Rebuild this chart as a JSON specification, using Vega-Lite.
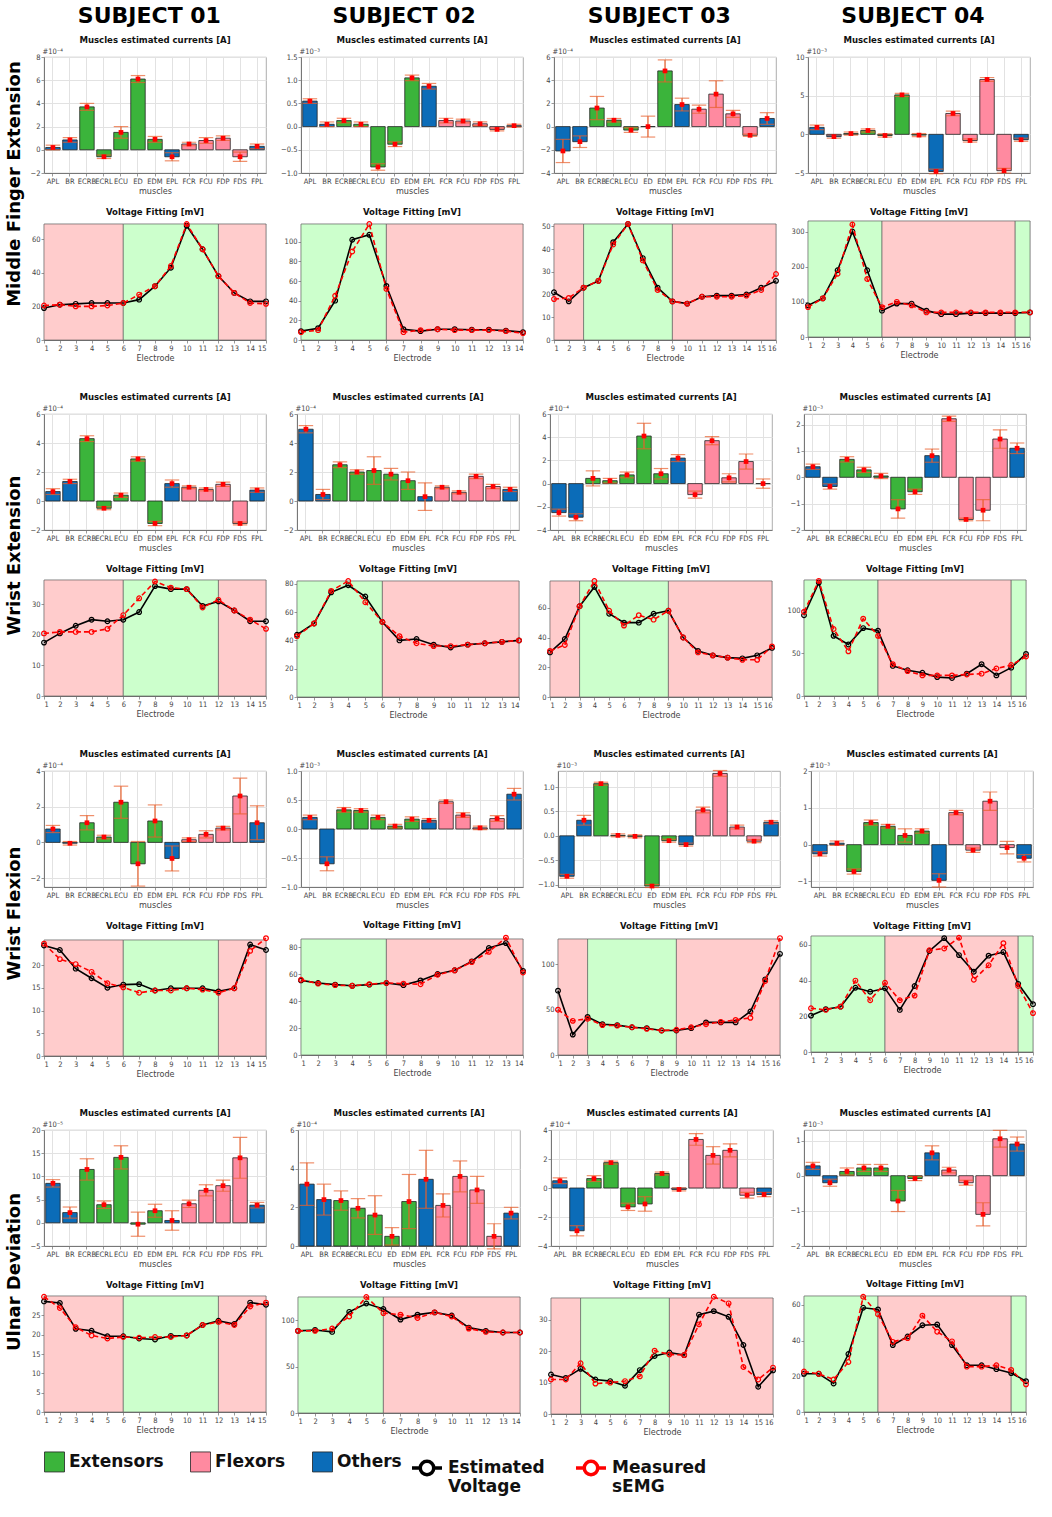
{
"$schema":"https://vega.github.io/schema/vega-lite/v6.json",
"background":"white",
"padding":5,
"datasets":{
"muscles":[{"k":"APL","g":"Others"},{"k":"BR","g":"Others"},{"k":"ECRB","g":"Extensors"},{"k":"ECRL","g":"Extensors"},{"k":"ECU","g":"Extensors"},{"k":"ED","g":"Extensors"},{"k":"EDM","g":"Extensors"},{"k":"EPL","g":"Others"},{"k":"FCR","g":"Flexors"},{"k":"FCU","g":"Flexors"},{"k":"FDP","g":"Flexors"},{"k":"FDS","g":"Flexors"},{"k":"FPL","g":"Others"}],
"zones":[{"s":1,"a":1,"b":6,"z":"F"},{"s":1,"a":6,"b":12,"z":"E"},{"s":1,"a":12,"b":15,"z":"F"},{"s":2,"a":1,"b":6,"z":"E"},{"s":2,"a":6,"b":14,"z":"F"},{"s":3,"a":1,"b":3,"z":"F"},{"s":3,"a":3,"b":9,"z":"E"},{"s":3,"a":9,"b":16,"z":"F"},{"s":4,"a":1,"b":6,"z":"E"},{"s":4,"a":6,"b":15,"z":"F"},{"s":4,"a":15,"b":16,"z":"E"}],
"bars":[
{"m":1,"s":1,"k":"APL","v":0.2,"e":0.2},{"m":1,"s":1,"k":"BR","v":0.85,"e":0.2},{"m":1,"s":1,"k":"ECRB","v":3.7,"e":0.3},{"m":1,"s":1,"k":"ECRL","v":-0.6,"e":0.15},{"m":1,"s":1,"k":"ECU","v":1.5,"e":0.5},{"m":1,"s":1,"k":"ED","v":6.1,"e":0.3},{"m":1,"s":1,"k":"EDM","v":0.9,"e":0.25},{"m":1,"s":1,"k":"EPL","v":-0.6,"e":0.35},{"m":1,"s":1,"k":"FCR","v":0.5,"e":0.15},{"m":1,"s":1,"k":"FCU","v":0.8,"e":0.25},{"m":1,"s":1,"k":"FDP","v":1.0,"e":0.2},{"m":1,"s":1,"k":"FDS","v":-0.6,"e":0.4},{"m":1,"s":1,"k":"FPL","v":0.3,"e":0.2},
{"m":1,"s":2,"k":"APL","v":0.55,"e":0.05},{"m":1,"s":2,"k":"BR","v":0.05,"e":0.05},{"m":1,"s":2,"k":"ECRB","v":0.13,"e":0.05},{"m":1,"s":2,"k":"ECRL","v":0.05,"e":0.05},{"m":1,"s":2,"k":"ECU","v":-0.87,"e":0.07},{"m":1,"s":2,"k":"ED","v":-0.38,"e":0.05},{"m":1,"s":2,"k":"EDM","v":1.05,"e":0.06},{"m":1,"s":2,"k":"EPL","v":0.87,"e":0.06},{"m":1,"s":2,"k":"FCR","v":0.13,"e":0.05},{"m":1,"s":2,"k":"FCU","v":0.12,"e":0.04},{"m":1,"s":2,"k":"FDP","v":0.06,"e":0.04},{"m":1,"s":2,"k":"FDS","v":-0.06,"e":0.03},{"m":1,"s":2,"k":"FPL","v":0.02,"e":0.03},
{"m":1,"s":3,"k":"APL","v":-2.1,"e":1.0},{"m":1,"s":3,"k":"BR","v":-1.3,"e":0.5},{"m":1,"s":3,"k":"ECRB","v":1.6,"e":1.0},{"m":1,"s":3,"k":"ECRL","v":0.55,"e":0.15},{"m":1,"s":3,"k":"ECU","v":-0.3,"e":0.2},{"m":1,"s":3,"k":"ED","v":0.0,"e":0.9},{"m":1,"s":3,"k":"EDM","v":4.8,"e":0.95},{"m":1,"s":3,"k":"EPL","v":1.9,"e":0.55},{"m":1,"s":3,"k":"FCR","v":1.5,"e":0.35},{"m":1,"s":3,"k":"FCU","v":2.8,"e":1.15},{"m":1,"s":3,"k":"FDP","v":1.1,"e":0.3},{"m":1,"s":3,"k":"FDS","v":-0.75,"e":0.1},{"m":1,"s":3,"k":"FPL","v":0.7,"e":0.5},
{"m":1,"s":4,"k":"APL","v":0.9,"e":0.3},{"m":1,"s":4,"k":"BR","v":-0.3,"e":0.2},{"m":1,"s":4,"k":"ECRB","v":0.1,"e":0.2},{"m":1,"s":4,"k":"ECRL","v":0.5,"e":0.2},{"m":1,"s":4,"k":"ECU","v":-0.15,"e":0.2},{"m":1,"s":4,"k":"ED","v":5.1,"e":0.2},{"m":1,"s":4,"k":"EDM","v":-0.1,"e":0.2},{"m":1,"s":4,"k":"EPL","v":-4.8,"e":0.3},{"m":1,"s":4,"k":"FCR","v":2.7,"e":0.3},{"m":1,"s":4,"k":"FCU","v":-0.8,"e":0.2},{"m":1,"s":4,"k":"FDP","v":7.1,"e":0.25},{"m":1,"s":4,"k":"FDS","v":-4.7,"e":0.3},{"m":1,"s":4,"k":"FPL","v":-0.7,"e":0.2},
{"m":2,"s":1,"k":"APL","v":0.65,"e":0.2},{"m":2,"s":1,"k":"BR","v":1.35,"e":0.15},{"m":2,"s":1,"k":"ECRB","v":4.3,"e":0.2},{"m":2,"s":1,"k":"ECRL","v":-0.5,"e":0.1},{"m":2,"s":1,"k":"ECU","v":0.4,"e":0.15},{"m":2,"s":1,"k":"ED","v":2.9,"e":0.15},{"m":2,"s":1,"k":"EDM","v":-1.55,"e":0.15},{"m":2,"s":1,"k":"EPL","v":1.2,"e":0.25},{"m":2,"s":1,"k":"FCR","v":0.95,"e":0.1},{"m":2,"s":1,"k":"FCU","v":0.8,"e":0.1},{"m":2,"s":1,"k":"FDP","v":1.15,"e":0.15},{"m":2,"s":1,"k":"FDS","v":-1.55,"e":0.1},{"m":2,"s":1,"k":"FPL","v":0.75,"e":0.15},
{"m":2,"s":2,"k":"APL","v":4.95,"e":0.25},{"m":2,"s":2,"k":"BR","v":0.45,"e":0.35},{"m":2,"s":2,"k":"ECRB","v":2.5,"e":0.2},{"m":2,"s":2,"k":"ECRL","v":2.0,"e":0.15},{"m":2,"s":2,"k":"ECU","v":2.1,"e":0.95},{"m":2,"s":2,"k":"ED","v":1.85,"e":0.4},{"m":2,"s":2,"k":"EDM","v":1.4,"e":0.6},{"m":2,"s":2,"k":"EPL","v":0.3,"e":0.95},{"m":2,"s":2,"k":"FCR","v":0.95,"e":0.1},{"m":2,"s":2,"k":"FCU","v":0.6,"e":0.1},{"m":2,"s":2,"k":"FDP","v":1.7,"e":0.15},{"m":2,"s":2,"k":"FDS","v":1.0,"e":0.15},{"m":2,"s":2,"k":"FPL","v":0.8,"e":0.15},
{"m":2,"s":3,"k":"APL","v":-2.5,"e":0.3},{"m":2,"s":3,"k":"BR","v":-2.9,"e":0.3},{"m":2,"s":3,"k":"ECRB","v":0.45,"e":0.65},{"m":2,"s":3,"k":"ECRL","v":0.25,"e":0.2},{"m":2,"s":3,"k":"ECU","v":0.75,"e":0.25},{"m":2,"s":3,"k":"ED","v":4.1,"e":1.1},{"m":2,"s":3,"k":"EDM","v":0.85,"e":0.45},{"m":2,"s":3,"k":"EPL","v":2.2,"e":0.3},{"m":2,"s":3,"k":"FCR","v":-0.95,"e":0.3},{"m":2,"s":3,"k":"FCU","v":3.7,"e":0.35},{"m":2,"s":3,"k":"FDP","v":0.5,"e":0.35},{"m":2,"s":3,"k":"FDS","v":1.9,"e":0.65},{"m":2,"s":3,"k":"FPL","v":0.0,"e":0.4},
{"m":2,"s":4,"k":"APL","v":0.4,"e":0.1},{"m":2,"s":4,"k":"BR","v":-0.35,"e":0.1},{"m":2,"s":4,"k":"ECRB","v":0.68,"e":0.1},{"m":2,"s":4,"k":"ECRL","v":0.28,"e":0.1},{"m":2,"s":4,"k":"ECU","v":0.05,"e":0.1},{"m":2,"s":4,"k":"ED","v":-1.2,"e":0.35},{"m":2,"s":4,"k":"EDM","v":-0.55,"e":0.1},{"m":2,"s":4,"k":"EPL","v":0.82,"e":0.25},{"m":2,"s":4,"k":"FCR","v":2.22,"e":0.1},{"m":2,"s":4,"k":"FCU","v":-1.6,"e":0.05},{"m":2,"s":4,"k":"FDP","v":-1.25,"e":0.4},{"m":2,"s":4,"k":"FDS","v":1.45,"e":0.35},{"m":2,"s":4,"k":"FPL","v":1.1,"e":0.2},
{"m":3,"s":1,"k":"APL","v":0.75,"e":0.2},{"m":3,"s":1,"k":"BR","v":-0.05,"e":0.1},{"m":3,"s":1,"k":"ECRB","v":1.1,"e":0.4},{"m":3,"s":1,"k":"ECRL","v":0.3,"e":0.1},{"m":3,"s":1,"k":"ECU","v":2.25,"e":0.9},{"m":3,"s":1,"k":"ED","v":-1.2,"e":1.25},{"m":3,"s":1,"k":"EDM","v":1.2,"e":0.9},{"m":3,"s":1,"k":"EPL","v":-0.9,"e":0.7},{"m":3,"s":1,"k":"FCR","v":0.15,"e":0.1},{"m":3,"s":1,"k":"FCU","v":0.45,"e":0.2},{"m":3,"s":1,"k":"FDP","v":0.8,"e":0.1},{"m":3,"s":1,"k":"FDS","v":2.6,"e":1.0},{"m":3,"s":1,"k":"FPL","v":1.1,"e":0.95},
{"m":3,"s":2,"k":"APL","v":0.2,"e":0.04},{"m":3,"s":2,"k":"BR","v":-0.6,"e":0.12},{"m":3,"s":2,"k":"ECRB","v":0.33,"e":0.04},{"m":3,"s":2,"k":"ECRL","v":0.32,"e":0.03},{"m":3,"s":2,"k":"ECU","v":0.2,"e":0.04},{"m":3,"s":2,"k":"ED","v":0.05,"e":0.03},{"m":3,"s":2,"k":"EDM","v":0.17,"e":0.04},{"m":3,"s":2,"k":"EPL","v":0.15,"e":0.03},{"m":3,"s":2,"k":"FCR","v":0.47,"e":0.03},{"m":3,"s":2,"k":"FCU","v":0.24,"e":0.04},{"m":3,"s":2,"k":"FDP","v":0.02,"e":0.03},{"m":3,"s":2,"k":"FDS","v":0.18,"e":0.05},{"m":3,"s":2,"k":"FPL","v":0.6,"e":0.1},
{"m":3,"s":3,"k":"APL","v":-0.83,"e":0.04},{"m":3,"s":3,"k":"BR","v":0.32,"e":0.1},{"m":3,"s":3,"k":"ECRB","v":1.07,"e":0.03},{"m":3,"s":3,"k":"ECRL","v":0.01,"e":0.03},{"m":3,"s":3,"k":"ECU","v":-0.01,"e":0.03},{"m":3,"s":3,"k":"ED","v":-1.03,"e":0.03},{"m":3,"s":3,"k":"EDM","v":-0.1,"e":0.03},{"m":3,"s":3,"k":"EPL","v":-0.18,"e":0.03},{"m":3,"s":3,"k":"FCR","v":0.53,"e":0.06},{"m":3,"s":3,"k":"FCU","v":1.28,"e":0.06},{"m":3,"s":3,"k":"FDP","v":0.18,"e":0.04},{"m":3,"s":3,"k":"FDS","v":-0.11,"e":0.03},{"m":3,"s":3,"k":"FPL","v":0.28,"e":0.03},
{"m":3,"s":4,"k":"APL","v":-0.25,"e":0.06},{"m":3,"s":4,"k":"BR","v":0.04,"e":0.06},{"m":3,"s":4,"k":"ECRB","v":-0.73,"e":0.07},{"m":3,"s":4,"k":"ECRL","v":0.6,"e":0.07},{"m":3,"s":4,"k":"ECU","v":0.5,"e":0.05},{"m":3,"s":4,"k":"ED","v":0.25,"e":0.18},{"m":3,"s":4,"k":"EDM","v":0.37,"e":0.06},{"m":3,"s":4,"k":"EPL","v":-0.97,"e":0.18},{"m":3,"s":4,"k":"FCR","v":0.87,"e":0.06},{"m":3,"s":4,"k":"FCU","v":-0.15,"e":0.06},{"m":3,"s":4,"k":"FDP","v":1.18,"e":0.25},{"m":3,"s":4,"k":"FDS","v":-0.08,"e":0.17},{"m":3,"s":4,"k":"FPL","v":-0.37,"e":0.1},
{"m":4,"s":1,"k":"APL","v":8.5,"e":0.8},{"m":4,"s":1,"k":"BR","v":2.2,"e":1.2},{"m":4,"s":1,"k":"ECRB","v":11.5,"e":2.3},{"m":4,"s":1,"k":"ECRL","v":3.9,"e":0.8},{"m":4,"s":1,"k":"ECU","v":14.1,"e":2.5},{"m":4,"s":1,"k":"ED","v":-0.3,"e":2.6},{"m":4,"s":1,"k":"EDM","v":2.6,"e":1.4},{"m":4,"s":1,"k":"EPL","v":0.5,"e":2.1},{"m":4,"s":1,"k":"FCR","v":4.1,"e":0.8},{"m":4,"s":1,"k":"FCU","v":7.0,"e":1.2},{"m":4,"s":1,"k":"FDP","v":8.0,"e":1.2},{"m":4,"s":1,"k":"FDS","v":14.0,"e":4.4},{"m":4,"s":1,"k":"FPL","v":3.8,"e":0.6},
{"m":4,"s":2,"k":"APL","v":3.2,"e":1.1},{"m":4,"s":2,"k":"BR","v":2.4,"e":0.8},{"m":4,"s":2,"k":"ECRB","v":2.35,"e":0.5},{"m":4,"s":2,"k":"ECRL","v":1.95,"e":0.5},{"m":4,"s":2,"k":"ECU","v":1.6,"e":1.0},{"m":4,"s":2,"k":"ED","v":0.5,"e":0.45},{"m":4,"s":2,"k":"EDM","v":2.3,"e":1.4},{"m":4,"s":2,"k":"EPL","v":3.45,"e":1.5},{"m":4,"s":2,"k":"FCR","v":2.1,"e":0.6},{"m":4,"s":2,"k":"FCU","v":3.6,"e":0.8},{"m":4,"s":2,"k":"FDP","v":2.9,"e":0.7},{"m":4,"s":2,"k":"FDS","v":0.5,"e":0.65},{"m":4,"s":2,"k":"FPL","v":1.7,"e":0.3},
{"m":4,"s":3,"k":"APL","v":0.5,"e":0.2},{"m":4,"s":3,"k":"BR","v":-2.95,"e":0.35},{"m":4,"s":3,"k":"ECRB","v":0.65,"e":0.2},{"m":4,"s":3,"k":"ECRL","v":1.75,"e":0.1},{"m":4,"s":3,"k":"ECU","v":-1.3,"e":0.25},{"m":4,"s":3,"k":"ED","v":-1.1,"e":0.5},{"m":4,"s":3,"k":"EDM","v":1.0,"e":0.1},{"m":4,"s":3,"k":"EPL","v":-0.1,"e":0.1},{"m":4,"s":3,"k":"FCR","v":3.35,"e":0.4},{"m":4,"s":3,"k":"FCU","v":2.25,"e":0.6},{"m":4,"s":3,"k":"FDP","v":2.6,"e":0.45},{"m":4,"s":3,"k":"FDS","v":-0.5,"e":0.2},{"m":4,"s":3,"k":"FPL","v":-0.45,"e":0.15},
{"m":4,"s":4,"k":"APL","v":0.28,"e":0.1},{"m":4,"s":4,"k":"BR","v":-0.2,"e":0.1},{"m":4,"s":4,"k":"ECRB","v":0.12,"e":0.1},{"m":4,"s":4,"k":"ECRL","v":0.22,"e":0.1},{"m":4,"s":4,"k":"ECU","v":0.22,"e":0.1},{"m":4,"s":4,"k":"ED","v":-0.72,"e":0.3},{"m":4,"s":4,"k":"EDM","v":-0.08,"e":0.06},{"m":4,"s":4,"k":"EPL","v":0.65,"e":0.2},{"m":4,"s":4,"k":"FCR","v":0.16,"e":0.08},{"m":4,"s":4,"k":"FCU","v":-0.2,"e":0.07},{"m":4,"s":4,"k":"FDP","v":-1.1,"e":0.33},{"m":4,"s":4,"k":"FDS","v":1.05,"e":0.24},{"m":4,"s":4,"k":"FPL","v":0.9,"e":0.2}
],
"volt":[
{"m":1,"s":1,"el":1,"est":19,"meas":20.5},{"m":1,"s":1,"el":2,"est":21,"meas":21},{"m":1,"s":1,"el":3,"est":21.5,"meas":20},{"m":1,"s":1,"el":4,"est":22,"meas":20},{"m":1,"s":1,"el":5,"est":22,"meas":20.5},{"m":1,"s":1,"el":6,"est":22,"meas":22},{"m":1,"s":1,"el":7,"est":24,"meas":27},{"m":1,"s":1,"el":8,"est":32,"meas":32},{"m":1,"s":1,"el":9,"est":43,"meas":44},{"m":1,"s":1,"el":10,"est":68,"meas":69},{"m":1,"s":1,"el":11,"est":54,"meas":54},{"m":1,"s":1,"el":12,"est":38,"meas":38},{"m":1,"s":1,"el":13,"est":28,"meas":28},{"m":1,"s":1,"el":14,"est":23,"meas":22},{"m":1,"s":1,"el":15,"est":23,"meas":21.5},
{"m":1,"s":2,"el":1,"est":9,"meas":8},{"m":1,"s":2,"el":2,"est":12,"meas":10},{"m":1,"s":2,"el":3,"est":40,"meas":45},{"m":1,"s":2,"el":4,"est":102,"meas":90},{"m":1,"s":2,"el":5,"est":107,"meas":118},{"m":1,"s":2,"el":6,"est":55,"meas":52},{"m":1,"s":2,"el":7,"est":11,"meas":8},{"m":1,"s":2,"el":8,"est":9,"meas":10},{"m":1,"s":2,"el":9,"est":11,"meas":11},{"m":1,"s":2,"el":10,"est":11,"meas":10},{"m":1,"s":2,"el":11,"est":10.5,"meas":10},{"m":1,"s":2,"el":12,"est":10.5,"meas":10},{"m":1,"s":2,"el":13,"est":9.5,"meas":9},{"m":1,"s":2,"el":14,"est":8,"meas":7},
{"m":1,"s":3,"el":1,"est":21,"meas":18},{"m":1,"s":3,"el":2,"est":17,"meas":18.5},{"m":1,"s":3,"el":3,"est":23,"meas":23},{"m":1,"s":3,"el":4,"est":26,"meas":26},{"m":1,"s":3,"el":5,"est":43,"meas":42},{"m":1,"s":3,"el":6,"est":51,"meas":51},{"m":1,"s":3,"el":7,"est":36,"meas":35},{"m":1,"s":3,"el":8,"est":23,"meas":22},{"m":1,"s":3,"el":9,"est":17,"meas":17},{"m":1,"s":3,"el":10,"est":16,"meas":16},{"m":1,"s":3,"el":11,"est":19,"meas":19},{"m":1,"s":3,"el":12,"est":19.5,"meas":19},{"m":1,"s":3,"el":13,"est":19.5,"meas":19},{"m":1,"s":3,"el":14,"est":20,"meas":19.5},{"m":1,"s":3,"el":15,"est":23,"meas":22},{"m":1,"s":3,"el":16,"est":26,"meas":29},
{"m":1,"s":4,"el":1,"est":90,"meas":85},{"m":1,"s":4,"el":2,"est":110,"meas":110},{"m":1,"s":4,"el":3,"est":190,"meas":180},{"m":1,"s":4,"el":4,"est":300,"meas":320},{"m":1,"s":4,"el":5,"est":190,"meas":165},{"m":1,"s":4,"el":6,"est":75,"meas":85},{"m":1,"s":4,"el":7,"est":95,"meas":100},{"m":1,"s":4,"el":8,"est":95,"meas":90},{"m":1,"s":4,"el":9,"est":75,"meas":70},{"m":1,"s":4,"el":10,"est":65,"meas":70},{"m":1,"s":4,"el":11,"est":65,"meas":70},{"m":1,"s":4,"el":12,"est":68,"meas":70},{"m":1,"s":4,"el":13,"est":68,"meas":70},{"m":1,"s":4,"el":14,"est":68,"meas":70},{"m":1,"s":4,"el":15,"est":68,"meas":70},{"m":1,"s":4,"el":16,"est":70,"meas":70},
{"m":2,"s":1,"el":1,"est":17.5,"meas":20.5},{"m":2,"s":1,"el":2,"est":20.5,"meas":21},{"m":2,"s":1,"el":3,"est":23,"meas":21},{"m":2,"s":1,"el":4,"est":25,"meas":21},{"m":2,"s":1,"el":5,"est":24.5,"meas":22},{"m":2,"s":1,"el":6,"est":25,"meas":26.5},{"m":2,"s":1,"el":7,"est":27.5,"meas":32},{"m":2,"s":1,"el":8,"est":36,"meas":37.5},{"m":2,"s":1,"el":9,"est":35,"meas":35.5},{"m":2,"s":1,"el":10,"est":35,"meas":35},{"m":2,"s":1,"el":11,"est":29.5,"meas":29},{"m":2,"s":1,"el":12,"est":31,"meas":31.5},{"m":2,"s":1,"el":13,"est":28,"meas":28},{"m":2,"s":1,"el":14,"est":24.5,"meas":25},{"m":2,"s":1,"el":15,"est":24.5,"meas":22},
{"m":2,"s":2,"el":1,"est":44,"meas":43},{"m":2,"s":2,"el":2,"est":52,"meas":52},{"m":2,"s":2,"el":3,"est":74,"meas":75},{"m":2,"s":2,"el":4,"est":79,"meas":82},{"m":2,"s":2,"el":5,"est":71,"meas":67},{"m":2,"s":2,"el":6,"est":53,"meas":53},{"m":2,"s":2,"el":7,"est":40,"meas":43},{"m":2,"s":2,"el":8,"est":41,"meas":38},{"m":2,"s":2,"el":9,"est":37,"meas":36},{"m":2,"s":2,"el":10,"est":35,"meas":36},{"m":2,"s":2,"el":11,"est":37,"meas":37},{"m":2,"s":2,"el":12,"est":38,"meas":38},{"m":2,"s":2,"el":13,"est":39,"meas":39},{"m":2,"s":2,"el":14,"est":40,"meas":40},
{"m":2,"s":3,"el":1,"est":30,"meas":31},{"m":2,"s":3,"el":2,"est":39,"meas":35},{"m":2,"s":3,"el":3,"est":61,"meas":61},{"m":2,"s":3,"el":4,"est":74,"meas":78},{"m":2,"s":3,"el":5,"est":56,"meas":58},{"m":2,"s":3,"el":6,"est":50,"meas":48},{"m":2,"s":3,"el":7,"est":50,"meas":55},{"m":2,"s":3,"el":8,"est":56,"meas":52},{"m":2,"s":3,"el":9,"est":58,"meas":58},{"m":2,"s":3,"el":10,"est":40,"meas":40},{"m":2,"s":3,"el":11,"est":31,"meas":30},{"m":2,"s":3,"el":12,"est":28,"meas":28},{"m":2,"s":3,"el":13,"est":26.5,"meas":26.5},{"m":2,"s":3,"el":14,"est":26,"meas":25},{"m":2,"s":3,"el":15,"est":28,"meas":25},{"m":2,"s":3,"el":16,"est":33,"meas":34},
{"m":2,"s":4,"el":1,"est":94,"meas":98},{"m":2,"s":4,"el":2,"est":132,"meas":134},{"m":2,"s":4,"el":3,"est":70,"meas":78},{"m":2,"s":4,"el":4,"est":60,"meas":52},{"m":2,"s":4,"el":5,"est":79,"meas":90},{"m":2,"s":4,"el":6,"est":76,"meas":70},{"m":2,"s":4,"el":7,"est":35,"meas":37},{"m":2,"s":4,"el":8,"est":30,"meas":29},{"m":2,"s":4,"el":9,"est":27,"meas":24},{"m":2,"s":4,"el":10,"est":22,"meas":24},{"m":2,"s":4,"el":11,"est":21,"meas":24},{"m":2,"s":4,"el":12,"est":26,"meas":25},{"m":2,"s":4,"el":13,"est":37,"meas":26},{"m":2,"s":4,"el":14,"est":24,"meas":32},{"m":2,"s":4,"el":15,"est":33,"meas":36},{"m":2,"s":4,"el":16,"est":49,"meas":46},
{"m":3,"s":1,"el":1,"est":24.3,"meas":24.7},{"m":3,"s":1,"el":2,"est":23.3,"meas":21.3},{"m":3,"s":1,"el":3,"est":19.2,"meas":20.2},{"m":3,"s":1,"el":4,"est":17.1,"meas":18.5},{"m":3,"s":1,"el":5,"est":15,"meas":16},{"m":3,"s":1,"el":6,"est":15.7,"meas":15.1},{"m":3,"s":1,"el":7,"est":15.8,"meas":13.9},{"m":3,"s":1,"el":8,"est":14.4,"meas":14.4},{"m":3,"s":1,"el":9,"est":14.9,"meas":14.4},{"m":3,"s":1,"el":10,"est":14.9,"meas":14.9},{"m":3,"s":1,"el":11,"est":14.9,"meas":14.6},{"m":3,"s":1,"el":12,"est":14.2,"meas":13.9},{"m":3,"s":1,"el":13,"est":14.9,"meas":14.9},{"m":3,"s":1,"el":14,"est":24.5,"meas":23.1},{"m":3,"s":1,"el":15,"est":23.3,"meas":25.9},
{"m":3,"s":2,"el":1,"est":55.3,"meas":55.8},{"m":3,"s":2,"el":2,"est":53.4,"meas":52.9},{"m":3,"s":2,"el":3,"est":52.2,"meas":51.8},{"m":3,"s":2,"el":4,"est":51.3,"meas":51.3},{"m":3,"s":2,"el":5,"est":52.2,"meas":52.5},{"m":3,"s":2,"el":6,"est":53.4,"meas":53.4},{"m":3,"s":2,"el":7,"est":51.8,"meas":52.9},{"m":3,"s":2,"el":8,"est":55.3,"meas":52.5},{"m":3,"s":2,"el":9,"est":60,"meas":59.5},{"m":3,"s":2,"el":10,"est":62.8,"meas":62.8},{"m":3,"s":2,"el":11,"est":69.4,"meas":68.9},{"m":3,"s":2,"el":12,"est":79.3,"meas":76.5},{"m":3,"s":2,"el":13,"est":83,"meas":87},{"m":3,"s":2,"el":14,"est":62.4,"meas":61.2},
{"m":3,"s":3,"el":1,"est":71,"meas":50},{"m":3,"s":3,"el":2,"est":22.5,"meas":37.7},{"m":3,"s":3,"el":3,"est":42,"meas":40},{"m":3,"s":3,"el":4,"est":34,"meas":33},{"m":3,"s":3,"el":5,"est":33,"meas":32.4},{"m":3,"s":3,"el":6,"est":30.6,"meas":30.6},{"m":3,"s":3,"el":7,"est":29.6,"meas":28.9},{"m":3,"s":3,"el":8,"est":27,"meas":27},{"m":3,"s":3,"el":9,"est":27,"meas":27.8},{"m":3,"s":3,"el":10,"est":29.6,"meas":30.6},{"m":3,"s":3,"el":11,"est":36,"meas":34},{"m":3,"s":3,"el":12,"est":36,"meas":36.6},{"m":3,"s":3,"el":13,"est":36,"meas":38.7},{"m":3,"s":3,"el":14,"est":48,"meas":41},{"m":3,"s":3,"el":15,"est":83.5,"meas":81.7},{"m":3,"s":3,"el":16,"est":111.6,"meas":129},
{"m":3,"s":4,"el":1,"est":20.4,"meas":24.5},{"m":3,"s":4,"el":2,"est":24,"meas":23.6},{"m":3,"s":4,"el":3,"est":25.4,"meas":25.4},{"m":3,"s":4,"el":4,"est":36,"meas":40},{"m":3,"s":4,"el":5,"est":33.8,"meas":29},{"m":3,"s":4,"el":6,"est":35.7,"meas":38.8},{"m":3,"s":4,"el":7,"est":23.6,"meas":29},{"m":3,"s":4,"el":8,"est":37,"meas":31.6},{"m":3,"s":4,"el":9,"est":56.6,"meas":57},{"m":3,"s":4,"el":10,"est":63.8,"meas":58},{"m":3,"s":4,"el":11,"est":54.3,"meas":64},{"m":3,"s":4,"el":12,"est":45,"meas":40.5},{"m":3,"s":4,"el":13,"est":54,"meas":48.6},{"m":3,"s":4,"el":14,"est":56,"meas":61},{"m":3,"s":4,"el":15,"est":38.2,"meas":37},{"m":3,"s":4,"el":16,"est":26.8,"meas":21.8},
{"m":4,"s":1,"el":1,"est":28.6,"meas":29.8},{"m":4,"s":1,"el":2,"est":28.2,"meas":26.9},{"m":4,"s":1,"el":3,"est":21.5,"meas":21.9},{"m":4,"s":1,"el":4,"est":21,"meas":19.8},{"m":4,"s":1,"el":5,"est":19.6,"meas":19},{"m":4,"s":1,"el":6,"est":19.6,"meas":19.4},{"m":4,"s":1,"el":7,"est":19,"meas":19.2},{"m":4,"s":1,"el":8,"est":18.75,"meas":19.4},{"m":4,"s":1,"el":9,"est":19.7,"meas":19.4},{"m":4,"s":1,"el":10,"est":19.8,"meas":19.8},{"m":4,"s":1,"el":11,"est":22.5,"meas":22.5},{"m":4,"s":1,"el":12,"est":23.6,"meas":23.3},{"m":4,"s":1,"el":13,"est":22.75,"meas":22.5},{"m":4,"s":1,"el":14,"est":28.3,"meas":27.3},{"m":4,"s":1,"el":15,"est":27.75,"meas":28.3},
{"m":4,"s":2,"el":1,"est":88.5,"meas":88.5},{"m":4,"s":2,"el":2,"est":89.5,"meas":88.5},{"m":4,"s":2,"el":3,"est":87.4,"meas":91},{"m":4,"s":2,"el":4,"est":109,"meas":104},{"m":4,"s":2,"el":5,"est":118,"meas":125},{"m":4,"s":2,"el":6,"est":112,"meas":107.7},{"m":4,"s":2,"el":7,"est":100.7,"meas":106},{"m":4,"s":2,"el":8,"est":106,"meas":102.4},{"m":4,"s":2,"el":9,"est":108.4,"meas":108.4},{"m":4,"s":2,"el":10,"est":105,"meas":104},{"m":4,"s":2,"el":11,"est":92,"meas":91},{"m":4,"s":2,"el":12,"est":88.5,"meas":87.4},{"m":4,"s":2,"el":13,"est":86.7,"meas":86.7},{"m":4,"s":2,"el":14,"est":86.7,"meas":86.7},
{"m":4,"s":3,"el":1,"est":12.6,"meas":11},{"m":4,"s":3,"el":2,"est":11.5,"meas":11},{"m":4,"s":3,"el":3,"est":14.4,"meas":16.2},{"m":4,"s":3,"el":4,"est":11,"meas":9.7},{"m":4,"s":3,"el":5,"est":10.5,"meas":10},{"m":4,"s":3,"el":6,"est":9,"meas":10.5},{"m":4,"s":3,"el":7,"est":14,"meas":12},{"m":4,"s":3,"el":8,"est":18.5,"meas":20.2},{"m":4,"s":3,"el":9,"est":19.6,"meas":19},{"m":4,"s":3,"el":10,"est":18.8,"meas":18.8},{"m":4,"s":3,"el":11,"est":31.7,"meas":28.6},{"m":4,"s":3,"el":12,"est":32.8,"meas":37.4},{"m":4,"s":3,"el":13,"est":31,"meas":35.3},{"m":4,"s":3,"el":14,"est":22,"meas":15},{"m":4,"s":3,"el":15,"est":8.7,"meas":11},{"m":4,"s":3,"el":16,"est":13.9,"meas":14.8},
{"m":4,"s":4,"el":1,"est":21.4,"meas":22.7},{"m":4,"s":4,"el":2,"est":21.4,"meas":21.4},{"m":4,"s":4,"el":3,"est":16,"meas":18.2},{"m":4,"s":4,"el":4,"est":32.5,"meas":28},{"m":4,"s":4,"el":5,"est":58.4,"meas":64.6},{"m":4,"s":4,"el":6,"est":57.5,"meas":54.8},{"m":4,"s":4,"el":7,"est":37.5,"meas":39.3},{"m":4,"s":4,"el":8,"est":42.3,"meas":41.4},{"m":4,"s":4,"el":9,"est":48.6,"meas":54},{"m":4,"s":4,"el":10,"est":49,"meas":45},{"m":4,"s":4,"el":11,"est":37.5,"meas":39.6},{"m":4,"s":4,"el":12,"est":26.2,"meas":25.4},{"m":4,"s":4,"el":13,"est":26.2,"meas":25.4},{"m":4,"s":4,"el":14,"est":24,"meas":26.2},{"m":4,"s":4,"el":15,"est":21.8,"meas":23.6},{"m":4,"s":4,"el":16,"est":17.3,"meas":15.5}
]
},
"spacing":28,
"vconcat":[
{"title":{"text":"Middle Finger Extension","orient":"left","fontSize":18,"font":"DejaVu Sans","fontWeight":"bold","anchor":"middle","offset":4,"color":"#000"},"spacing":8,"hconcat":[
{"title":{"text":"SUBJECT 01","fontSize":22,"font":"DejaVu Sans","fontWeight":"bold","offset":6,"color":"#000","anchor":"middle"},"spacing":10,"vconcat":[
{"width":222,"height":116,"title":"Muscles estimated currents [A]","data":{"name":"bars"},"transform":[{"filter":"datum.m==1&&datum.s==1"},{"lookup":"k","from":{"data":{"name":"muscles"},"key":"k","fields":["g"]}}],"encoding":{"x":{"field":"k","type":"nominal","sort":["APL","BR","ECRB","ECRL","ECU","ED","EDM","EPL","FCR","FCU","FDP","FDS","FPL"],"title":"muscles","axis":{"grid":true}},"y":{"field":"v","type":"quantitative","scale":{"domain":[-2,8],"nice":false},"axis":{"values":[-2,0,2,4,6,8]},"title":"#10⁻⁴"}},"layer":[{"mark":"bar","encoding":{"fill":{"field":"g","type":"nominal","title":null,"scale":{"domain":["Extensors","Flexors","Others"],"range":["#3bb43b","#ff8aa0","#0b6cb8"]},"legend":{"symbolType":"square","symbolSize":400,"symbolStrokeColor":"#222"}}}},{"mark":{"type":"errorbar","ticks":true,"color":"#e8602c","thickness":1.2},"encoding":{"yError":{"field":"e"}}},{"mark":{"type":"square","color":"#ff0000","size":22,"opacity":1}}]},
{"width":222,"height":116,"title":"Voltage Fitting [mV]","data":{"name":"volt"},"transform":[{"filter":"datum.m==1&&datum.s==1"}],"encoding":{"x":{"field":"el","type":"quantitative","scale":{"domain":[1,15],"nice":false},"axis":{"values":[1,2,3,4,5,6,7,8,9,10,11,12,13,14,15],"format":"d"},"title":"Electrode"}},"layer":[{"data":{"name":"zones"},"transform":[{"filter":"datum.s==1"}],"mark":{"type":"rect","stroke":"#555","strokeWidth":0.6},"encoding":{"x":{"field":"a","type":"quantitative","title":"Electrode"},"x2":{"field":"b"},"fill":{"condition":{"test":"datum.z=='E'","value":"#ccffcc"},"value":"#ffcccc"}}},{"mark":{"type":"line","strokeWidth":1.6,"point":{"filled":false,"size":22,"strokeWidth":1.2}},"encoding":{"y":{"field":"est","type":"quantitative","scale":{"domain":[0,69],"nice":false},"axis":{"values":[0,20,40,60]},"title":null},"stroke":{"datum":"Estimated Voltage","title":null,"scale":{"domain":["Estimated Voltage","Measured sEMG"],"range":["#000000","#ff0000"]},"legend":{"symbolType":"M-1,0H-0.45M0.45,0H1M0.45,0A0.45,0.45 0 1 1 -0.45,0A0.45,0.45 0 1 1 0.45,0","symbolSize":900,"symbolStrokeWidth":3.5,"symbolFillColor":"#ffffff","labelExpr":"split(datum.label,' ')"}}}},{"mark":{"type":"line","strokeWidth":1.6,"strokeDash":[5,3],"point":{"filled":false,"size":22,"strokeWidth":1.2}},"encoding":{"y":{"field":"meas","type":"quantitative","scale":{"domain":[0,69],"nice":false},"axis":{"values":[0,20,40,60]},"title":null},"stroke":{"datum":"Measured sEMG","title":null}}}]}
]},
{"title":{"text":"SUBJECT 02","fontSize":22,"font":"DejaVu Sans","fontWeight":"bold","offset":6,"color":"#000","anchor":"middle"},"spacing":10,"vconcat":[
{"width":222,"height":116,"title":"Muscles estimated currents [A]","data":{"name":"bars"},"transform":[{"filter":"datum.m==1&&datum.s==2"},{"lookup":"k","from":{"data":{"name":"muscles"},"key":"k","fields":["g"]}}],"encoding":{"x":{"field":"k","type":"nominal","sort":["APL","BR","ECRB","ECRL","ECU","ED","EDM","EPL","FCR","FCU","FDP","FDS","FPL"],"title":"muscles","axis":{"grid":true}},"y":{"field":"v","type":"quantitative","scale":{"domain":[-1,1.5],"nice":false},"axis":{"values":[-1,-0.5,0,0.5,1,1.5]},"title":"#10⁻³"}},"layer":[{"mark":"bar","encoding":{"fill":{"field":"g","type":"nominal","title":null}}},{"mark":{"type":"errorbar","ticks":true,"color":"#e8602c","thickness":1.2},"encoding":{"yError":{"field":"e"}}},{"mark":{"type":"square","color":"#ff0000","size":22,"opacity":1}}]},
{"width":222,"height":116,"title":"Voltage Fitting [mV]","data":{"name":"volt"},"transform":[{"filter":"datum.m==1&&datum.s==2"}],"encoding":{"x":{"field":"el","type":"quantitative","scale":{"domain":[1,14],"nice":false},"axis":{"values":[1,2,3,4,5,6,7,8,9,10,11,12,13,14],"format":"d"},"title":"Electrode"}},"layer":[{"data":{"name":"zones"},"transform":[{"filter":"datum.s==2"}],"mark":{"type":"rect","stroke":"#555","strokeWidth":0.6},"encoding":{"x":{"field":"a","type":"quantitative","title":"Electrode"},"x2":{"field":"b"},"fill":{"condition":{"test":"datum.z=='E'","value":"#ccffcc"},"value":"#ffcccc"}}},{"mark":{"type":"line","strokeWidth":1.6,"point":{"filled":false,"size":22,"strokeWidth":1.2}},"encoding":{"y":{"field":"est","type":"quantitative","scale":{"domain":[0,118],"nice":false},"axis":{"values":[0,20,40,60,80,100]},"title":null},"stroke":{"datum":"Estimated Voltage","title":null}}},{"mark":{"type":"line","strokeWidth":1.6,"strokeDash":[5,3],"point":{"filled":false,"size":22,"strokeWidth":1.2}},"encoding":{"y":{"field":"meas","type":"quantitative","scale":{"domain":[0,118],"nice":false},"axis":{"values":[0,20,40,60,80,100]},"title":null},"stroke":{"datum":"Measured sEMG","title":null}}}]}
]},
{"title":{"text":"SUBJECT 03","fontSize":22,"font":"DejaVu Sans","fontWeight":"bold","offset":6,"color":"#000","anchor":"middle"},"spacing":10,"vconcat":[
{"width":222,"height":116,"title":"Muscles estimated currents [A]","data":{"name":"bars"},"transform":[{"filter":"datum.m==1&&datum.s==3"},{"lookup":"k","from":{"data":{"name":"muscles"},"key":"k","fields":["g"]}}],"encoding":{"x":{"field":"k","type":"nominal","sort":["APL","BR","ECRB","ECRL","ECU","ED","EDM","EPL","FCR","FCU","FDP","FDS","FPL"],"title":"muscles","axis":{"grid":true}},"y":{"field":"v","type":"quantitative","scale":{"domain":[-4,6],"nice":false},"axis":{"values":[-4,-2,0,2,4,6]},"title":"#10⁻⁴"}},"layer":[{"mark":"bar","encoding":{"fill":{"field":"g","type":"nominal","title":null}}},{"mark":{"type":"errorbar","ticks":true,"color":"#e8602c","thickness":1.2},"encoding":{"yError":{"field":"e"}}},{"mark":{"type":"square","color":"#ff0000","size":22,"opacity":1}}]},
{"width":222,"height":116,"title":"Voltage Fitting [mV]","data":{"name":"volt"},"transform":[{"filter":"datum.m==1&&datum.s==3"}],"encoding":{"x":{"field":"el","type":"quantitative","scale":{"domain":[1,16],"nice":false},"axis":{"values":[1,2,3,4,5,6,7,8,9,10,11,12,13,14,15,16],"format":"d"},"title":"Electrode"}},"layer":[{"data":{"name":"zones"},"transform":[{"filter":"datum.s==3"}],"mark":{"type":"rect","stroke":"#555","strokeWidth":0.6},"encoding":{"x":{"field":"a","type":"quantitative","title":"Electrode"},"x2":{"field":"b"},"fill":{"condition":{"test":"datum.z=='E'","value":"#ccffcc"},"value":"#ffcccc"}}},{"mark":{"type":"line","strokeWidth":1.6,"point":{"filled":false,"size":22,"strokeWidth":1.2}},"encoding":{"y":{"field":"est","type":"quantitative","scale":{"domain":[0,51],"nice":false},"axis":{"values":[0,10,20,30,40,50]},"title":null},"stroke":{"datum":"Estimated Voltage","title":null}}},{"mark":{"type":"line","strokeWidth":1.6,"strokeDash":[5,3],"point":{"filled":false,"size":22,"strokeWidth":1.2}},"encoding":{"y":{"field":"meas","type":"quantitative","scale":{"domain":[0,51],"nice":false},"axis":{"values":[0,10,20,30,40,50]},"title":null},"stroke":{"datum":"Measured sEMG","title":null}}}]}
]},
{"title":{"text":"SUBJECT 04","fontSize":22,"font":"DejaVu Sans","fontWeight":"bold","offset":6,"color":"#000","anchor":"middle"},"spacing":10,"vconcat":[
{"width":222,"height":116,"title":"Muscles estimated currents [A]","data":{"name":"bars"},"transform":[{"filter":"datum.m==1&&datum.s==4"},{"lookup":"k","from":{"data":{"name":"muscles"},"key":"k","fields":["g"]}}],"encoding":{"x":{"field":"k","type":"nominal","sort":["APL","BR","ECRB","ECRL","ECU","ED","EDM","EPL","FCR","FCU","FDP","FDS","FPL"],"title":"muscles","axis":{"grid":true}},"y":{"field":"v","type":"quantitative","scale":{"domain":[-5,10],"nice":false},"axis":{"values":[-5,0,5,10]},"title":"#10⁻³"}},"layer":[{"mark":"bar","encoding":{"fill":{"field":"g","type":"nominal","title":null}}},{"mark":{"type":"errorbar","ticks":true,"color":"#e8602c","thickness":1.2},"encoding":{"yError":{"field":"e"}}},{"mark":{"type":"square","color":"#ff0000","size":22,"opacity":1}}]},
{"width":222,"height":116,"title":"Voltage Fitting [mV]","data":{"name":"volt"},"transform":[{"filter":"datum.m==1&&datum.s==4"}],"encoding":{"x":{"field":"el","type":"quantitative","scale":{"domain":[1,16],"nice":false},"axis":{"values":[1,2,3,4,5,6,7,8,9,10,11,12,13,14,15,16],"format":"d"},"title":"Electrode"}},"layer":[{"data":{"name":"zones"},"transform":[{"filter":"datum.s==4"}],"mark":{"type":"rect","stroke":"#555","strokeWidth":0.6},"encoding":{"x":{"field":"a","type":"quantitative","title":"Electrode"},"x2":{"field":"b"},"fill":{"condition":{"test":"datum.z=='E'","value":"#ccffcc"},"value":"#ffcccc"}}},{"mark":{"type":"line","strokeWidth":1.6,"point":{"filled":false,"size":22,"strokeWidth":1.2}},"encoding":{"y":{"field":"est","type":"quantitative","scale":{"domain":[0,330],"nice":false},"axis":{"values":[0,100,200,300]},"title":null},"stroke":{"datum":"Estimated Voltage","title":null}}},{"mark":{"type":"line","strokeWidth":1.6,"strokeDash":[5,3],"point":{"filled":false,"size":22,"strokeWidth":1.2}},"encoding":{"y":{"field":"meas","type":"quantitative","scale":{"domain":[0,330],"nice":false},"axis":{"values":[0,100,200,300]},"title":null},"stroke":{"datum":"Measured sEMG","title":null}}}]}
]}
]},
{"title":{"text":"Wrist Extension","orient":"left","fontSize":18,"font":"DejaVu Sans","fontWeight":"bold","anchor":"middle","offset":4,"color":"#000"},"spacing":8,"hconcat":[
{"spacing":10,"vconcat":[
{"width":222,"height":116,"title":"Muscles estimated currents [A]","data":{"name":"bars"},"transform":[{"filter":"datum.m==2&&datum.s==1"},{"lookup":"k","from":{"data":{"name":"muscles"},"key":"k","fields":["g"]}}],"encoding":{"x":{"field":"k","type":"nominal","sort":["APL","BR","ECRB","ECRL","ECU","ED","EDM","EPL","FCR","FCU","FDP","FDS","FPL"],"title":"muscles","axis":{"grid":true}},"y":{"field":"v","type":"quantitative","scale":{"domain":[-2,6],"nice":false},"axis":{"values":[-2,0,2,4,6]},"title":"#10⁻⁴"}},"layer":[{"mark":"bar","encoding":{"fill":{"field":"g","type":"nominal","title":null}}},{"mark":{"type":"errorbar","ticks":true,"color":"#e8602c","thickness":1.2},"encoding":{"yError":{"field":"e"}}},{"mark":{"type":"square","color":"#ff0000","size":22,"opacity":1}}]},
{"width":222,"height":116,"title":"Voltage Fitting [mV]","data":{"name":"volt"},"transform":[{"filter":"datum.m==2&&datum.s==1"}],"encoding":{"x":{"field":"el","type":"quantitative","scale":{"domain":[1,15],"nice":false},"axis":{"values":[1,2,3,4,5,6,7,8,9,10,11,12,13,14,15],"format":"d"},"title":"Electrode"}},"layer":[{"data":{"name":"zones"},"transform":[{"filter":"datum.s==1"}],"mark":{"type":"rect","stroke":"#555","strokeWidth":0.6},"encoding":{"x":{"field":"a","type":"quantitative","title":"Electrode"},"x2":{"field":"b"},"fill":{"condition":{"test":"datum.z=='E'","value":"#ccffcc"},"value":"#ffcccc"}}},{"mark":{"type":"line","strokeWidth":1.6,"point":{"filled":false,"size":22,"strokeWidth":1.2}},"encoding":{"y":{"field":"est","type":"quantitative","scale":{"domain":[0,38],"nice":false},"axis":{"values":[0,10,20,30]},"title":null},"stroke":{"datum":"Estimated Voltage","title":null}}},{"mark":{"type":"line","strokeWidth":1.6,"strokeDash":[5,3],"point":{"filled":false,"size":22,"strokeWidth":1.2}},"encoding":{"y":{"field":"meas","type":"quantitative","scale":{"domain":[0,38],"nice":false},"axis":{"values":[0,10,20,30]},"title":null},"stroke":{"datum":"Measured sEMG","title":null}}}]}
]},
{"spacing":10,"vconcat":[
{"width":222,"height":116,"title":"Muscles estimated currents [A]","data":{"name":"bars"},"transform":[{"filter":"datum.m==2&&datum.s==2"},{"lookup":"k","from":{"data":{"name":"muscles"},"key":"k","fields":["g"]}}],"encoding":{"x":{"field":"k","type":"nominal","sort":["APL","BR","ECRB","ECRL","ECU","ED","EDM","EPL","FCR","FCU","FDP","FDS","FPL"],"title":"muscles","axis":{"grid":true}},"y":{"field":"v","type":"quantitative","scale":{"domain":[-2,6],"nice":false},"axis":{"values":[-2,0,2,4,6]},"title":"#10⁻⁴"}},"layer":[{"mark":"bar","encoding":{"fill":{"field":"g","type":"nominal","title":null}}},{"mark":{"type":"errorbar","ticks":true,"color":"#e8602c","thickness":1.2},"encoding":{"yError":{"field":"e"}}},{"mark":{"type":"square","color":"#ff0000","size":22,"opacity":1}}]},
{"width":222,"height":116,"title":"Voltage Fitting [mV]","data":{"name":"volt"},"transform":[{"filter":"datum.m==2&&datum.s==2"}],"encoding":{"x":{"field":"el","type":"quantitative","scale":{"domain":[1,14],"nice":false},"axis":{"values":[1,2,3,4,5,6,7,8,9,10,11,12,13,14],"format":"d"},"title":"Electrode"}},"layer":[{"data":{"name":"zones"},"transform":[{"filter":"datum.s==2"}],"mark":{"type":"rect","stroke":"#555","strokeWidth":0.6},"encoding":{"x":{"field":"a","type":"quantitative","title":"Electrode"},"x2":{"field":"b"},"fill":{"condition":{"test":"datum.z=='E'","value":"#ccffcc"},"value":"#ffcccc"}}},{"mark":{"type":"line","strokeWidth":1.6,"point":{"filled":false,"size":22,"strokeWidth":1.2}},"encoding":{"y":{"field":"est","type":"quantitative","scale":{"domain":[0,82],"nice":false},"axis":{"values":[0,20,40,60,80]},"title":null},"stroke":{"datum":"Estimated Voltage","title":null}}},{"mark":{"type":"line","strokeWidth":1.6,"strokeDash":[5,3],"point":{"filled":false,"size":22,"strokeWidth":1.2}},"encoding":{"y":{"field":"meas","type":"quantitative","scale":{"domain":[0,82],"nice":false},"axis":{"values":[0,20,40,60,80]},"title":null},"stroke":{"datum":"Measured sEMG","title":null}}}]}
]},
{"spacing":10,"vconcat":[
{"width":222,"height":116,"title":"Muscles estimated currents [A]","data":{"name":"bars"},"transform":[{"filter":"datum.m==2&&datum.s==3"},{"lookup":"k","from":{"data":{"name":"muscles"},"key":"k","fields":["g"]}}],"encoding":{"x":{"field":"k","type":"nominal","sort":["APL","BR","ECRB","ECRL","ECU","ED","EDM","EPL","FCR","FCU","FDP","FDS","FPL"],"title":"muscles","axis":{"grid":true}},"y":{"field":"v","type":"quantitative","scale":{"domain":[-4,6],"nice":false},"axis":{"values":[-4,-2,0,2,4,6]},"title":"#10⁻⁴"}},"layer":[{"mark":"bar","encoding":{"fill":{"field":"g","type":"nominal","title":null}}},{"mark":{"type":"errorbar","ticks":true,"color":"#e8602c","thickness":1.2},"encoding":{"yError":{"field":"e"}}},{"mark":{"type":"square","color":"#ff0000","size":22,"opacity":1}}]},
{"width":222,"height":116,"title":"Voltage Fitting [mV]","data":{"name":"volt"},"transform":[{"filter":"datum.m==2&&datum.s==3"}],"encoding":{"x":{"field":"el","type":"quantitative","scale":{"domain":[1,16],"nice":false},"axis":{"values":[1,2,3,4,5,6,7,8,9,10,11,12,13,14,15,16],"format":"d"},"title":"Electrode"}},"layer":[{"data":{"name":"zones"},"transform":[{"filter":"datum.s==3"}],"mark":{"type":"rect","stroke":"#555","strokeWidth":0.6},"encoding":{"x":{"field":"a","type":"quantitative","title":"Electrode"},"x2":{"field":"b"},"fill":{"condition":{"test":"datum.z=='E'","value":"#ccffcc"},"value":"#ffcccc"}}},{"mark":{"type":"line","strokeWidth":1.6,"point":{"filled":false,"size":22,"strokeWidth":1.2}},"encoding":{"y":{"field":"est","type":"quantitative","scale":{"domain":[0,78],"nice":false},"axis":{"values":[0,20,40,60]},"title":null},"stroke":{"datum":"Estimated Voltage","title":null}}},{"mark":{"type":"line","strokeWidth":1.6,"strokeDash":[5,3],"point":{"filled":false,"size":22,"strokeWidth":1.2}},"encoding":{"y":{"field":"meas","type":"quantitative","scale":{"domain":[0,78],"nice":false},"axis":{"values":[0,20,40,60]},"title":null},"stroke":{"datum":"Measured sEMG","title":null}}}]}
]},
{"spacing":10,"vconcat":[
{"width":222,"height":116,"title":"Muscles estimated currents [A]","data":{"name":"bars"},"transform":[{"filter":"datum.m==2&&datum.s==4"},{"lookup":"k","from":{"data":{"name":"muscles"},"key":"k","fields":["g"]}}],"encoding":{"x":{"field":"k","type":"nominal","sort":["APL","BR","ECRB","ECRL","ECU","ED","EDM","EPL","FCR","FCU","FDP","FDS","FPL"],"title":"muscles","axis":{"grid":true}},"y":{"field":"v","type":"quantitative","scale":{"domain":[-2,2.4],"nice":false},"axis":{"values":[-2,-1,0,1,2]},"title":"#10⁻³"}},"layer":[{"mark":"bar","encoding":{"fill":{"field":"g","type":"nominal","title":null}}},{"mark":{"type":"errorbar","ticks":true,"color":"#e8602c","thickness":1.2},"encoding":{"yError":{"field":"e"}}},{"mark":{"type":"square","color":"#ff0000","size":22,"opacity":1}}]},
{"width":222,"height":116,"title":"Voltage Fitting [mV]","data":{"name":"volt"},"transform":[{"filter":"datum.m==2&&datum.s==4"}],"encoding":{"x":{"field":"el","type":"quantitative","scale":{"domain":[1,16],"nice":false},"axis":{"values":[1,2,3,4,5,6,7,8,9,10,11,12,13,14,15,16],"format":"d"},"title":"Electrode"}},"layer":[{"data":{"name":"zones"},"transform":[{"filter":"datum.s==4"}],"mark":{"type":"rect","stroke":"#555","strokeWidth":0.6},"encoding":{"x":{"field":"a","type":"quantitative","title":"Electrode"},"x2":{"field":"b"},"fill":{"condition":{"test":"datum.z=='E'","value":"#ccffcc"},"value":"#ffcccc"}}},{"mark":{"type":"line","strokeWidth":1.6,"point":{"filled":false,"size":22,"strokeWidth":1.2}},"encoding":{"y":{"field":"est","type":"quantitative","scale":{"domain":[0,135],"nice":false},"axis":{"values":[0,50,100]},"title":null},"stroke":{"datum":"Estimated Voltage","title":null}}},{"mark":{"type":"line","strokeWidth":1.6,"strokeDash":[5,3],"point":{"filled":false,"size":22,"strokeWidth":1.2}},"encoding":{"y":{"field":"meas","type":"quantitative","scale":{"domain":[0,135],"nice":false},"axis":{"values":[0,50,100]},"title":null},"stroke":{"datum":"Measured sEMG","title":null}}}]}
]}
]},
{"title":{"text":"Wrist Flexion","orient":"left","fontSize":18,"font":"DejaVu Sans","fontWeight":"bold","anchor":"middle","offset":4,"color":"#000"},"spacing":8,"hconcat":[
{"spacing":10,"vconcat":[
{"width":222,"height":116,"title":"Muscles estimated currents [A]","data":{"name":"bars"},"transform":[{"filter":"datum.m==3&&datum.s==1"},{"lookup":"k","from":{"data":{"name":"muscles"},"key":"k","fields":["g"]}}],"encoding":{"x":{"field":"k","type":"nominal","sort":["APL","BR","ECRB","ECRL","ECU","ED","EDM","EPL","FCR","FCU","FDP","FDS","FPL"],"title":"muscles","axis":{"grid":true}},"y":{"field":"v","type":"quantitative","scale":{"domain":[-2.5,4],"nice":false},"axis":{"values":[-2,0,2,4]},"title":"#10⁻⁴"}},"layer":[{"mark":"bar","encoding":{"fill":{"field":"g","type":"nominal","title":null}}},{"mark":{"type":"errorbar","ticks":true,"color":"#e8602c","thickness":1.2},"encoding":{"yError":{"field":"e"}}},{"mark":{"type":"square","color":"#ff0000","size":22,"opacity":1}}]},
{"width":222,"height":116,"title":"Voltage Fitting [mV]","data":{"name":"volt"},"transform":[{"filter":"datum.m==3&&datum.s==1"}],"encoding":{"x":{"field":"el","type":"quantitative","scale":{"domain":[1,15],"nice":false},"axis":{"values":[1,2,3,4,5,6,7,8,9,10,11,12,13,14,15],"format":"d"},"title":"Electrode"}},"layer":[{"data":{"name":"zones"},"transform":[{"filter":"datum.s==1"}],"mark":{"type":"rect","stroke":"#555","strokeWidth":0.6},"encoding":{"x":{"field":"a","type":"quantitative","title":"Electrode"},"x2":{"field":"b"},"fill":{"condition":{"test":"datum.z=='E'","value":"#ccffcc"},"value":"#ffcccc"}}},{"mark":{"type":"line","strokeWidth":1.6,"point":{"filled":false,"size":22,"strokeWidth":1.2}},"encoding":{"y":{"field":"est","type":"quantitative","scale":{"domain":[0,25.5],"nice":false},"axis":{"values":[0,5,10,15,20]},"title":null},"stroke":{"datum":"Estimated Voltage","title":null}}},{"mark":{"type":"line","strokeWidth":1.6,"strokeDash":[5,3],"point":{"filled":false,"size":22,"strokeWidth":1.2}},"encoding":{"y":{"field":"meas","type":"quantitative","scale":{"domain":[0,25.5],"nice":false},"axis":{"values":[0,5,10,15,20]},"title":null},"stroke":{"datum":"Measured sEMG","title":null}}}]}
]},
{"spacing":10,"vconcat":[
{"width":222,"height":116,"title":"Muscles estimated currents [A]","data":{"name":"bars"},"transform":[{"filter":"datum.m==3&&datum.s==2"},{"lookup":"k","from":{"data":{"name":"muscles"},"key":"k","fields":["g"]}}],"encoding":{"x":{"field":"k","type":"nominal","sort":["APL","BR","ECRB","ECRL","ECU","ED","EDM","EPL","FCR","FCU","FDP","FDS","FPL"],"title":"muscles","axis":{"grid":true}},"y":{"field":"v","type":"quantitative","scale":{"domain":[-1,1],"nice":false},"axis":{"values":[-1,-0.5,0,0.5,1]},"title":"#10⁻³"}},"layer":[{"mark":"bar","encoding":{"fill":{"field":"g","type":"nominal","title":null}}},{"mark":{"type":"errorbar","ticks":true,"color":"#e8602c","thickness":1.2},"encoding":{"yError":{"field":"e"}}},{"mark":{"type":"square","color":"#ff0000","size":22,"opacity":1}}]},
{"width":222,"height":116,"title":"Voltage Fitting [mV]","data":{"name":"volt"},"transform":[{"filter":"datum.m==3&&datum.s==2"}],"encoding":{"x":{"field":"el","type":"quantitative","scale":{"domain":[1,14],"nice":false},"axis":{"values":[1,2,3,4,5,6,7,8,9,10,11,12,13,14],"format":"d"},"title":"Electrode"}},"layer":[{"data":{"name":"zones"},"transform":[{"filter":"datum.s==2"}],"mark":{"type":"rect","stroke":"#555","strokeWidth":0.6},"encoding":{"x":{"field":"a","type":"quantitative","title":"Electrode"},"x2":{"field":"b"},"fill":{"condition":{"test":"datum.z=='E'","value":"#ccffcc"},"value":"#ffcccc"}}},{"mark":{"type":"line","strokeWidth":1.6,"point":{"filled":false,"size":22,"strokeWidth":1.2}},"encoding":{"y":{"field":"est","type":"quantitative","scale":{"domain":[0,86],"nice":false},"axis":{"values":[0,20,40,60,80]},"title":null},"stroke":{"datum":"Estimated Voltage","title":null}}},{"mark":{"type":"line","strokeWidth":1.6,"strokeDash":[5,3],"point":{"filled":false,"size":22,"strokeWidth":1.2}},"encoding":{"y":{"field":"meas","type":"quantitative","scale":{"domain":[0,86],"nice":false},"axis":{"values":[0,20,40,60,80]},"title":null},"stroke":{"datum":"Measured sEMG","title":null}}}]}
]},
{"spacing":10,"vconcat":[
{"width":222,"height":116,"title":"Muscles estimated currents [A]","data":{"name":"bars"},"transform":[{"filter":"datum.m==3&&datum.s==3"},{"lookup":"k","from":{"data":{"name":"muscles"},"key":"k","fields":["g"]}}],"encoding":{"x":{"field":"k","type":"nominal","sort":["APL","BR","ECRB","ECRL","ECU","ED","EDM","EPL","FCR","FCU","FDP","FDS","FPL"],"title":"muscles","axis":{"grid":true}},"y":{"field":"v","type":"quantitative","scale":{"domain":[-1.05,1.33],"nice":false},"axis":{"values":[-1,-0.5,0,0.5,1]},"title":"#10⁻³"}},"layer":[{"mark":"bar","encoding":{"fill":{"field":"g","type":"nominal","title":null}}},{"mark":{"type":"errorbar","ticks":true,"color":"#e8602c","thickness":1.2},"encoding":{"yError":{"field":"e"}}},{"mark":{"type":"square","color":"#ff0000","size":22,"opacity":1}}]},
{"width":222,"height":116,"title":"Voltage Fitting [mV]","data":{"name":"volt"},"transform":[{"filter":"datum.m==3&&datum.s==3"}],"encoding":{"x":{"field":"el","type":"quantitative","scale":{"domain":[1,16],"nice":false},"axis":{"values":[1,2,3,4,5,6,7,8,9,10,11,12,13,14,15,16],"format":"d"},"title":"Electrode"}},"layer":[{"data":{"name":"zones"},"transform":[{"filter":"datum.s==3"}],"mark":{"type":"rect","stroke":"#555","strokeWidth":0.6},"encoding":{"x":{"field":"a","type":"quantitative","title":"Electrode"},"x2":{"field":"b"},"fill":{"condition":{"test":"datum.z=='E'","value":"#ccffcc"},"value":"#ffcccc"}}},{"mark":{"type":"line","strokeWidth":1.6,"point":{"filled":false,"size":22,"strokeWidth":1.2}},"encoding":{"y":{"field":"est","type":"quantitative","scale":{"domain":[0,128],"nice":false},"axis":{"values":[0,50,100]},"title":null},"stroke":{"datum":"Estimated Voltage","title":null}}},{"mark":{"type":"line","strokeWidth":1.6,"strokeDash":[5,3],"point":{"filled":false,"size":22,"strokeWidth":1.2}},"encoding":{"y":{"field":"meas","type":"quantitative","scale":{"domain":[0,128],"nice":false},"axis":{"values":[0,50,100]},"title":null},"stroke":{"datum":"Measured sEMG","title":null}}}]}
]},
{"spacing":10,"vconcat":[
{"width":222,"height":116,"title":"Muscles estimated currents [A]","data":{"name":"bars"},"transform":[{"filter":"datum.m==3&&datum.s==4"},{"lookup":"k","from":{"data":{"name":"muscles"},"key":"k","fields":["g"]}}],"encoding":{"x":{"field":"k","type":"nominal","sort":["APL","BR","ECRB","ECRL","ECU","ED","EDM","EPL","FCR","FCU","FDP","FDS","FPL"],"title":"muscles","axis":{"grid":true}},"y":{"field":"v","type":"quantitative","scale":{"domain":[-1.15,2],"nice":false},"axis":{"values":[-1,0,1,2]},"title":"#10⁻³"}},"layer":[{"mark":"bar","encoding":{"fill":{"field":"g","type":"nominal","title":null}}},{"mark":{"type":"errorbar","ticks":true,"color":"#e8602c","thickness":1.2},"encoding":{"yError":{"field":"e"}}},{"mark":{"type":"square","color":"#ff0000","size":22,"opacity":1}}]},
{"width":222,"height":116,"title":"Voltage Fitting [mV]","data":{"name":"volt"},"transform":[{"filter":"datum.m==3&&datum.s==4"}],"encoding":{"x":{"field":"el","type":"quantitative","scale":{"domain":[1,16],"nice":false},"axis":{"values":[1,2,3,4,5,6,7,8,9,10,11,12,13,14,15,16],"format":"d"},"title":"Electrode"}},"layer":[{"data":{"name":"zones"},"transform":[{"filter":"datum.s==4"}],"mark":{"type":"rect","stroke":"#555","strokeWidth":0.6},"encoding":{"x":{"field":"a","type":"quantitative","title":"Electrode"},"x2":{"field":"b"},"fill":{"condition":{"test":"datum.z=='E'","value":"#ccffcc"},"value":"#ffcccc"}}},{"mark":{"type":"line","strokeWidth":1.6,"point":{"filled":false,"size":22,"strokeWidth":1.2}},"encoding":{"y":{"field":"est","type":"quantitative","scale":{"domain":[0,65],"nice":false},"axis":{"values":[0,20,40,60]},"title":null},"stroke":{"datum":"Estimated Voltage","title":null}}},{"mark":{"type":"line","strokeWidth":1.6,"strokeDash":[5,3],"point":{"filled":false,"size":22,"strokeWidth":1.2}},"encoding":{"y":{"field":"meas","type":"quantitative","scale":{"domain":[0,65],"nice":false},"axis":{"values":[0,20,40,60]},"title":null},"stroke":{"datum":"Measured sEMG","title":null}}}]}
]}
]},
{"title":{"text":"Ulnar Deviation","orient":"left","fontSize":18,"font":"DejaVu Sans","fontWeight":"bold","anchor":"middle","offset":4,"color":"#000"},"spacing":8,"hconcat":[
{"spacing":10,"vconcat":[
{"width":222,"height":116,"title":"Muscles estimated currents [A]","data":{"name":"bars"},"transform":[{"filter":"datum.m==4&&datum.s==1"},{"lookup":"k","from":{"data":{"name":"muscles"},"key":"k","fields":["g"]}}],"encoding":{"x":{"field":"k","type":"nominal","sort":["APL","BR","ECRB","ECRL","ECU","ED","EDM","EPL","FCR","FCU","FDP","FDS","FPL"],"title":"muscles","axis":{"grid":true}},"y":{"field":"v","type":"quantitative","scale":{"domain":[-5,20],"nice":false},"axis":{"values":[-5,0,5,10,15,20]},"title":"#10⁻⁵"}},"layer":[{"mark":"bar","encoding":{"fill":{"field":"g","type":"nominal","title":null}}},{"mark":{"type":"errorbar","ticks":true,"color":"#e8602c","thickness":1.2},"encoding":{"yError":{"field":"e"}}},{"mark":{"type":"square","color":"#ff0000","size":22,"opacity":1}}]},
{"width":222,"height":116,"title":"Voltage Fitting [mV]","data":{"name":"volt"},"transform":[{"filter":"datum.m==4&&datum.s==1"}],"encoding":{"x":{"field":"el","type":"quantitative","scale":{"domain":[1,15],"nice":false},"axis":{"values":[1,2,3,4,5,6,7,8,9,10,11,12,13,14,15],"format":"d"},"title":"Electrode"}},"layer":[{"data":{"name":"zones"},"transform":[{"filter":"datum.s==1"}],"mark":{"type":"rect","stroke":"#555","strokeWidth":0.6},"encoding":{"x":{"field":"a","type":"quantitative","title":"Electrode"},"x2":{"field":"b"},"fill":{"condition":{"test":"datum.z=='E'","value":"#ccffcc"},"value":"#ffcccc"}}},{"mark":{"type":"line","strokeWidth":1.6,"point":{"filled":false,"size":22,"strokeWidth":1.2}},"encoding":{"y":{"field":"est","type":"quantitative","scale":{"domain":[0,30],"nice":false},"axis":{"values":[0,5,10,15,20,25]},"title":null},"stroke":{"datum":"Estimated Voltage","title":null}}},{"mark":{"type":"line","strokeWidth":1.6,"strokeDash":[5,3],"point":{"filled":false,"size":22,"strokeWidth":1.2}},"encoding":{"y":{"field":"meas","type":"quantitative","scale":{"domain":[0,30],"nice":false},"axis":{"values":[0,5,10,15,20,25]},"title":null},"stroke":{"datum":"Measured sEMG","title":null}}}]}
]},
{"spacing":10,"vconcat":[
{"width":222,"height":116,"title":"Muscles estimated currents [A]","data":{"name":"bars"},"transform":[{"filter":"datum.m==4&&datum.s==2"},{"lookup":"k","from":{"data":{"name":"muscles"},"key":"k","fields":["g"]}}],"encoding":{"x":{"field":"k","type":"nominal","sort":["APL","BR","ECRB","ECRL","ECU","ED","EDM","EPL","FCR","FCU","FDP","FDS","FPL"],"title":"muscles","axis":{"grid":true}},"y":{"field":"v","type":"quantitative","scale":{"domain":[0,6],"nice":false},"axis":{"values":[0,2,4,6]},"title":"#10⁻⁴"}},"layer":[{"mark":"bar","encoding":{"fill":{"field":"g","type":"nominal","title":null}}},{"mark":{"type":"errorbar","ticks":true,"color":"#e8602c","thickness":1.2},"encoding":{"yError":{"field":"e"}}},{"mark":{"type":"square","color":"#ff0000","size":22,"opacity":1}}]},
{"width":222,"height":116,"title":"Voltage Fitting [mV]","data":{"name":"volt"},"transform":[{"filter":"datum.m==4&&datum.s==2"}],"encoding":{"x":{"field":"el","type":"quantitative","scale":{"domain":[1,14],"nice":false},"axis":{"values":[1,2,3,4,5,6,7,8,9,10,11,12,13,14],"format":"d"},"title":"Electrode"}},"layer":[{"data":{"name":"zones"},"transform":[{"filter":"datum.s==2"}],"mark":{"type":"rect","stroke":"#555","strokeWidth":0.6},"encoding":{"x":{"field":"a","type":"quantitative","title":"Electrode"},"x2":{"field":"b"},"fill":{"condition":{"test":"datum.z=='E'","value":"#ccffcc"},"value":"#ffcccc"}}},{"mark":{"type":"line","strokeWidth":1.6,"point":{"filled":false,"size":22,"strokeWidth":1.2}},"encoding":{"y":{"field":"est","type":"quantitative","scale":{"domain":[0,125],"nice":false},"axis":{"values":[0,50,100]},"title":null},"stroke":{"datum":"Estimated Voltage","title":null}}},{"mark":{"type":"line","strokeWidth":1.6,"strokeDash":[5,3],"point":{"filled":false,"size":22,"strokeWidth":1.2}},"encoding":{"y":{"field":"meas","type":"quantitative","scale":{"domain":[0,125],"nice":false},"axis":{"values":[0,50,100]},"title":null},"stroke":{"datum":"Measured sEMG","title":null}}}]}
]},
{"spacing":10,"vconcat":[
{"width":222,"height":116,"title":"Muscles estimated currents [A]","data":{"name":"bars"},"transform":[{"filter":"datum.m==4&&datum.s==3"},{"lookup":"k","from":{"data":{"name":"muscles"},"key":"k","fields":["g"]}}],"encoding":{"x":{"field":"k","type":"nominal","sort":["APL","BR","ECRB","ECRL","ECU","ED","EDM","EPL","FCR","FCU","FDP","FDS","FPL"],"title":"muscles","axis":{"grid":true}},"y":{"field":"v","type":"quantitative","scale":{"domain":[-4,4],"nice":false},"axis":{"values":[-4,-2,0,2,4]},"title":"#10⁻⁴"}},"layer":[{"mark":"bar","encoding":{"fill":{"field":"g","type":"nominal","title":null}}},{"mark":{"type":"errorbar","ticks":true,"color":"#e8602c","thickness":1.2},"encoding":{"yError":{"field":"e"}}},{"mark":{"type":"square","color":"#ff0000","size":22,"opacity":1}}]},
{"width":222,"height":116,"title":"Voltage Fitting [mV]","data":{"name":"volt"},"transform":[{"filter":"datum.m==4&&datum.s==3"}],"encoding":{"x":{"field":"el","type":"quantitative","scale":{"domain":[1,16],"nice":false},"axis":{"values":[1,2,3,4,5,6,7,8,9,10,11,12,13,14,15,16],"format":"d"},"title":"Electrode"}},"layer":[{"data":{"name":"zones"},"transform":[{"filter":"datum.s==3"}],"mark":{"type":"rect","stroke":"#555","strokeWidth":0.6},"encoding":{"x":{"field":"a","type":"quantitative","title":"Electrode"},"x2":{"field":"b"},"fill":{"condition":{"test":"datum.z=='E'","value":"#ccffcc"},"value":"#ffcccc"}}},{"mark":{"type":"line","strokeWidth":1.6,"point":{"filled":false,"size":22,"strokeWidth":1.2}},"encoding":{"y":{"field":"est","type":"quantitative","scale":{"domain":[0,37],"nice":false},"axis":{"values":[0,10,20,30]},"title":null},"stroke":{"datum":"Estimated Voltage","title":null}}},{"mark":{"type":"line","strokeWidth":1.6,"strokeDash":[5,3],"point":{"filled":false,"size":22,"strokeWidth":1.2}},"encoding":{"y":{"field":"meas","type":"quantitative","scale":{"domain":[0,37],"nice":false},"axis":{"values":[0,10,20,30]},"title":null},"stroke":{"datum":"Measured sEMG","title":null}}}]}
]},
{"spacing":10,"vconcat":[
{"width":222,"height":116,"title":"Muscles estimated currents [A]","data":{"name":"bars"},"transform":[{"filter":"datum.m==4&&datum.s==4"},{"lookup":"k","from":{"data":{"name":"muscles"},"key":"k","fields":["g"]}}],"encoding":{"x":{"field":"k","type":"nominal","sort":["APL","BR","ECRB","ECRL","ECU","ED","EDM","EPL","FCR","FCU","FDP","FDS","FPL"],"title":"muscles","axis":{"grid":true}},"y":{"field":"v","type":"quantitative","scale":{"domain":[-2,1.3],"nice":false},"axis":{"values":[-2,-1,0,1]},"title":"#10⁻³"}},"layer":[{"mark":"bar","encoding":{"fill":{"field":"g","type":"nominal","title":null}}},{"mark":{"type":"errorbar","ticks":true,"color":"#e8602c","thickness":1.2},"encoding":{"yError":{"field":"e"}}},{"mark":{"type":"square","color":"#ff0000","size":22,"opacity":1}}]},
{"width":222,"height":116,"title":"Voltage Fitting [mV]","data":{"name":"volt"},"transform":[{"filter":"datum.m==4&&datum.s==4"}],"encoding":{"x":{"field":"el","type":"quantitative","scale":{"domain":[1,16],"nice":false},"axis":{"values":[1,2,3,4,5,6,7,8,9,10,11,12,13,14,15,16],"format":"d"},"title":"Electrode"}},"layer":[{"data":{"name":"zones"},"transform":[{"filter":"datum.s==4"}],"mark":{"type":"rect","stroke":"#555","strokeWidth":0.6},"encoding":{"x":{"field":"a","type":"quantitative","title":"Electrode"},"x2":{"field":"b"},"fill":{"condition":{"test":"datum.z=='E'","value":"#ccffcc"},"value":"#ffcccc"}}},{"mark":{"type":"line","strokeWidth":1.6,"point":{"filled":false,"size":22,"strokeWidth":1.2}},"encoding":{"y":{"field":"est","type":"quantitative","scale":{"domain":[0,65],"nice":false},"axis":{"values":[0,20,40,60]},"title":null},"stroke":{"datum":"Estimated Voltage","title":null}}},{"mark":{"type":"line","strokeWidth":1.6,"strokeDash":[5,3],"point":{"filled":false,"size":22,"strokeWidth":1.2}},"encoding":{"y":{"field":"meas","type":"quantitative","scale":{"domain":[0,65],"nice":false},"axis":{"values":[0,20,40,60]},"title":null},"stroke":{"datum":"Measured sEMG","title":null}}}]}
]}
]}
],
"config":{
"font":"Liberation Sans Narrow, DejaVu Sans Condensed, sans-serif",
"view":{"stroke":"#999","strokeWidth":0.8},
"axis":{"labelFontSize":7.5,"labelColor":"#444","titleFontSize":9,"titleFontWeight":"normal","titleColor":"#444","gridColor":"#e2e2e2","domainColor":"#777","tickColor":"#999","tickSize":3,"labelPadding":1,"titlePadding":2},
"axisY":{"minExtent":16,"maxExtent":16,"titleAngle":0,"titleAlign":"left","titleBaseline":"bottom","titleX":-2,"titleY":-2,"titleFontSize":7.5},
"axisX":{"labelAngle":0,"labelOverlap":false},
"title":{"fontSize":9.5,"fontWeight":"bold","offset":3,"color":"#111"},
"bar":{"stroke":"#222","strokeWidth":0.8},
"scale":{"bandPaddingInner":0.15,"bandPaddingOuter":0.1},
"legend":{"orient":"bottom","labelFontSize":17,"labelFont":"DejaVu Sans","labelFontWeight":"bold","labelColor":"#111","labelLimit":400,"columnPadding":24,"offset":14}
}
}
